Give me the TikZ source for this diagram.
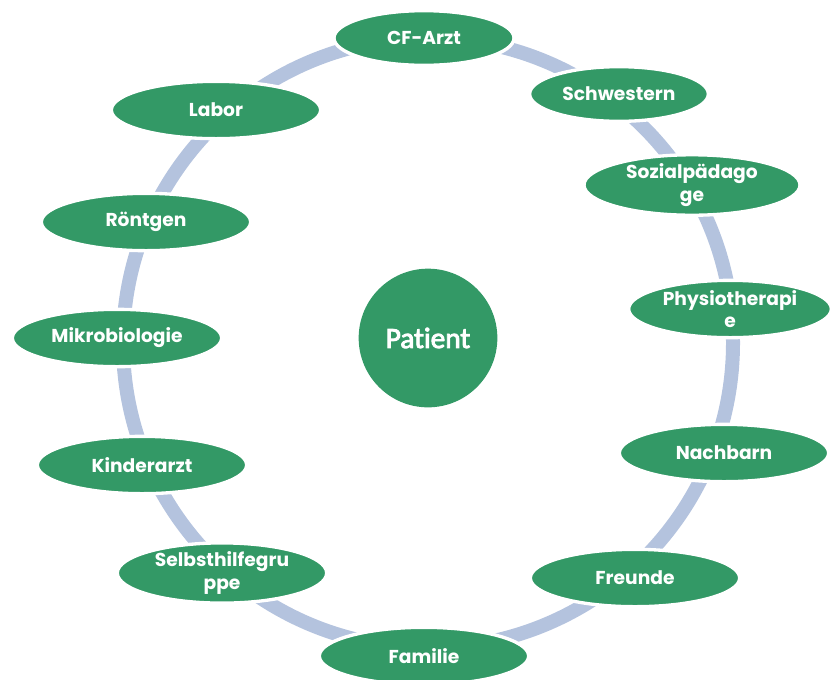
\documentclass[tikz,border=0pt]{standalone}
\usepackage{fontspec}
\setmainfont{Poppins}
\newfontfamily\patientfont{Carlito}[Ligatures=NoCommon,AutoFakeBold=3]
\usetikzlibrary{shapes.geometric}
\definecolor{cfgreen}{RGB}{51,153,102}
\definecolor{ringblue}{RGB}{180,195,222}

\begin{document}
\begin{tikzpicture}[x=0.75pt,y=-0.75pt,
    member/.style={ellipse,fill=cfgreen,draw=white,line width=2.5pt,inner sep=0pt,
      minimum width=157pt,minimum height=43pt,text=white,align=center,
      font=\fontsize{14}{17}\selectfont\bfseries},
    centre/.style={circle,fill=cfgreen,inner sep=0pt,minimum size=104pt,text=white,
      font=\patientfont\fontsize{22}{24}\selectfont\bfseries}]
      \useasboundingbox (0,0) rectangle (830,679);
      \coordinate (mid) at (428,343);
      \draw[ringblue,line width=10.5pt] (mid) circle [radius=228.75pt];

      \node[centre] (patient) at (428,338) {Patient};

      \node[member,minimum width=135pt,minimum height=41pt] (cfarzt) at (424,38) {CF-Arzt};
      \node[member,minimum width=134pt,minimum height=41pt] (schwestern) at (619,94) {Schwestern};
      \node[member,minimum width=162pt] (sozial) at (692,185) {Sozialpädago\\ge};
      \node[member,minimum width=152pt] (physio) at (730,309) {Physiotherapi\\e};
      \node[member] (nachbarn) at (724,453) {Nachbarn};
      \node[member] (freunde) at (635,578) {Freunde};
      \node[member] (familie) at (424,656) {Familie};
      \node[member] (selbsthilfe) at (222,573) {Selbsthilfegru\\ppe};
      \node[member] (kinderarzt) at (142,465) {Kinderarzt};
      \node[member] (mikro) at (117,338) {Mikrobiologie};
      \node[member] (roentgen) at (146,222) {Röntgen};
      \node[member] (labor) at (216,110) {Labor};
    \end{tikzpicture}
\end{document}
